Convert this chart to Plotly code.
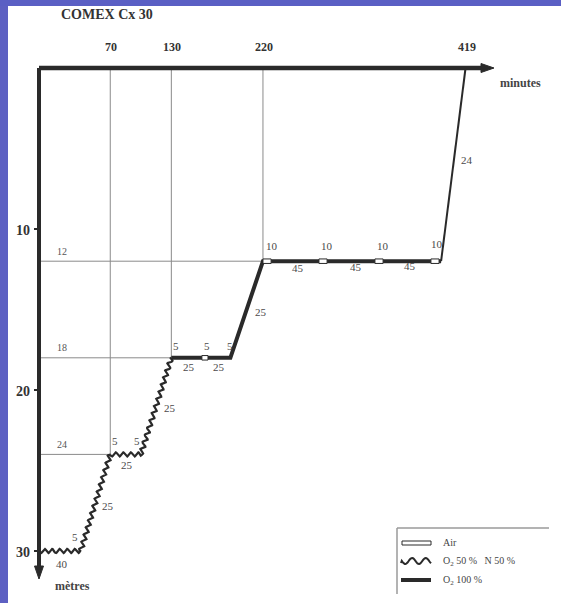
import math
import plotly.graph_objects as go

# ---------------- data ----------------
title_text = "COMEX Cx 30"
time_ticks = [70, 130, 220, 419]          # minutes marked on top axis
depth_ticks = [10, 20, 30]                # metres marked on left axis
stop_depths = [24, 18, 12]                # stop depths (m)
stop_arrive = [70, 130, 220]              # arrival time at each stop (min)

mix_t = [0, 41, 70, 100, 130]             # O2 50 % N 50 % segments
mix_d = [30, 30, 24, 24, 18]
o2_t = [130, 188, 220, 395]               # O2 100 % segments
o2_d = [18, 18, 12, 12]
air_t = [395, 419]                        # final ascent on air
air_d = [12, 0]
break_start = [160, 220, 275, 330, 385]   # air breaks
break_end = [166, 228, 283, 338, 393]
break_depth = [18, 12, 12, 12, 12]

seg_labels = ["40", "5", "25", "5", "5", "25", "25", "5", "5", "5", "25", "25", "25",
              "10", "10", "10", "10", "45", "45", "45", "24"]
legend_labels = ["Air", "O<sub>2</sub> 50 %   N 50 %", "O<sub>2</sub> 100 %"]

# ---------------- geometry helpers ----------------
W, H = 561, 603
X0, SX = 39.0, 1.018    # px of t=0, px per minute
Y0, SY = 68.0, 16.1     # px of d=0, px per metre


def t_of(px):
    return (px - X0) / SX


def d_of(py):
    return (py - Y0) / SY


def wavy(ts, ds, lam=7.5, amp=2.1):
    """Return a wavy rendering (style only) of the polyline given in data units."""
    pts = [(X0 + SX * t, Y0 + SY * d) for t, d in zip(ts, ds)]
    xs, ys = [], []
    s0 = 0.0
    for (x1, y1), (x2, y2) in zip(pts[:-1], pts[1:]):
        L = math.hypot(x2 - x1, y2 - y1)
        ux, uy = (x2 - x1) / L, (y2 - y1) / L
        nx, ny = -uy, ux
        n = max(2, int(L / 0.5))
        for i in range(n + 1):
            s = L * i / n
            off = amp * math.sin(2 * math.pi * (s0 + s) / lam)
            px = x1 + ux * s + nx * off
            py = y1 + uy * s + ny * off
            xs.append(t_of(px))
            ys.append(d_of(py))
        s0 += L
    return xs, ys


FONT = "Liberation Serif"
INK = "#2a2a2a"
GRID = "#8a8a8a"

fig = go.Figure()

# grid lines from stops
for d, t in zip(stop_depths, stop_arrive):
    fig.add_trace(go.Scatter(x=[0, t], y=[d, d], mode="lines",
                             line=dict(color=GRID, width=1), hoverinfo="skip"))
    fig.add_trace(go.Scatter(x=[t, t], y=[0, d], mode="lines",
                             line=dict(color=GRID, width=1), hoverinfo="skip"))

# mix (wavy)
wx, wy = wavy(mix_t, mix_d)
fig.add_trace(go.Scatter(x=wx, y=wy, mode="lines", line=dict(color=INK, width=2.2),
                         hoverinfo="skip"))
# O2 100 %
fig.add_trace(go.Scatter(x=o2_t, y=o2_d, mode="lines", line=dict(color=INK, width=4),
                         hoverinfo="skip"))
# air ascent
fig.add_trace(go.Scatter(x=air_t, y=air_d, mode="lines", line=dict(color=INK, width=2),
                         hoverinfo="skip"))

shapes = []
# air breaks: hollow rectangles
for a, b, d in zip(break_start, break_end, break_depth):
    shapes.append(dict(type="rect", xref="x", yref="y", x0=a, x1=b,
                       y0=d - 0.14, y1=d + 0.14, fillcolor="white",
                       line=dict(color=INK, width=1)))

# axes
shapes.append(dict(type="line", xref="x", yref="y", x0=0, x1=t_of(484), y0=0, y1=0,
                   line=dict(color=INK, width=4.5)))
shapes.append(dict(type="line", xref="x", yref="y", x0=0, x1=0, y0=0, y1=d_of(570),
                   line=dict(color=INK, width=4)))
# arrowheads (paths in data coords)
shapes.append(dict(type="path", xref="x", yref="y", fillcolor=INK, line=dict(color=INK, width=1),
                   path=f"M {t_of(481)} {d_of(63.5)} L {t_of(494)} 0 L {t_of(481)} {d_of(72.5)} Z"))
shapes.append(dict(type="path", xref="x", yref="y", fillcolor=INK, line=dict(color=INK, width=1),
                   path=f"M {t_of(34.5)} {d_of(566)} L 0 {d_of(579)} L {t_of(43.5)} {d_of(566)} Z"))
# depth tick marks
for d in depth_ticks:
    shapes.append(dict(type="line", xref="x", yref="y", x0=t_of(34), x1=0, y0=d, y1=d,
                       line=dict(color=INK, width=2)))


# legend frame and symbols (paper coords)
def px(x):
    return x / W


def py(y):
    return 1 - y / H


shapes.append(dict(type="line", xref="paper", yref="paper", x0=px(397), x1=px(549),
                   y0=py(528), y1=py(528), line=dict(color="#9a9a9a", width=1.5)))
shapes.append(dict(type="line", xref="paper", yref="paper", x0=px(397), x1=px(397),
                   y0=py(528), y1=py(594), line=dict(color="#9a9a9a", width=1.5)))
shapes.append(dict(type="rect", xref="paper", yref="paper", x0=px(402), x1=px(431),
                   y0=py(545), y1=py(541), fillcolor="white", line=dict(color=INK, width=1)))
wave_path = "M {} {}".format(px(401), py(563))
for i in range(1, 41):
    xx = 401 + 30 * i / 40
    yy = 561 + 3 * math.sin(2 * math.pi * (i / 40) * 2.2 - 0.4)
    wave_path += " L {} {}".format(px(xx), py(yy))
shapes.append(dict(type="path", xref="paper", yref="paper", path=wave_path,
                   line=dict(color=INK, width=2)))
shapes.append(dict(type="line", xref="paper", yref="paper", x0=px(401), x1=px(431),
                   y0=py(580), y1=py(580), line=dict(color=INK, width=4)))

# blue slide border
shapes.append(dict(type="rect", xref="paper", yref="paper", x0=0, x1=px(8), y0=0, y1=1,
                   fillcolor="#5d60c2", line=dict(width=0), layer="above"))
shapes.append(dict(type="rect", xref="paper", yref="paper", x0=0, x1=1, y0=py(6), y1=1,
                   fillcolor="#5a5fc4", line=dict(width=0), layer="above"))

ann = []


def label(text, x, y, size=10, bold=False, color="#444", xanchor="center"):
    ann.append(dict(text=f"<b>{text}</b>" if bold else text, xref="paper", yref="paper",
                    x=px(x), y=py(y), showarrow=False, xanchor=xanchor, yanchor="middle",
                    font=dict(family=FONT, size=size, color=color)))


label(title_text, 107, 15, size=14, bold=True, color="#333")
for t in time_ticks:
    label(str(t), X0 + SX * t + 1, 47, size=12, bold=True, color="#333")
label("minutes", 520, 83, size=12, bold=True, color="#444")
for d in depth_ticks:
    label(str(d), 23, Y0 + SY * d + 1, size=14, bold=True, color="#333")
label("mètres", 72, 586, size=12, bold=True, color="#444")
for d in stop_depths:
    label(str(d), 62, Y0 + SY * d - 10, size=10, color="#555")

seg_pos = [(62, 564), (75, 537), (108, 506), (115, 441), (137, 441), (127, 465),
           (170, 408), (176, 346), (207, 346), (230, 346), (189, 367), (219, 367),
           (261, 312), (272, 246), (327, 246), (383, 246), (437, 244),
           (298, 268), (356, 267), (410, 266), (467, 160)]
for txt, (x, y) in zip(seg_labels, seg_pos):
    label(txt, x, y, size=11, color="#4a4a4a")

for txt, y in zip(legend_labels, [542, 561, 580]):
    label(txt, 441, y, size=10, color="#444", xanchor="left")

fig.update_layout(
    width=W, height=H, margin=dict(l=0, r=0, t=0, b=0),
    paper_bgcolor="white", plot_bgcolor="white", showlegend=False,
    xaxis=dict(range=[t_of(0), t_of(W)], visible=False, fixedrange=True),
    yaxis=dict(range=[d_of(H), d_of(0)], visible=False, fixedrange=True),
    shapes=shapes, annotations=ann,
)

fig.write_html("out.html", config={"displayModeBar": False},
               post_script="document.body.style.margin='0px';document.body.style.overflow='hidden';")
